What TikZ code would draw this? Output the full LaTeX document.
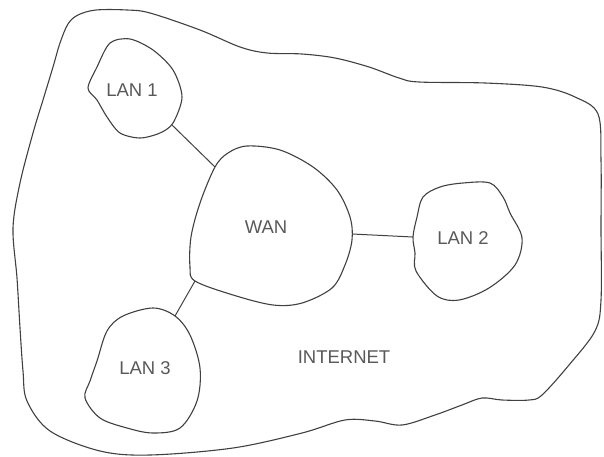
\documentclass[tikz,border=0pt]{standalone}
\usepackage{fontspec}
\setmainfont{Liberation Sans}
\begin{document}
\begin{tikzpicture}[x=1pt,y=-1pt,
  outline/.style={draw=black!75,line width=1.1pt,line join=round},
  link/.style={draw=black!75,line width=1.0pt},
  lbl/.style={text=black!65,font=\fontsize{18.5}{20}\selectfont,inner sep=0pt}]
\useasboundingbox (0,0) rectangle (604,457);
% Internet boundary
\draw[outline] plot[smooth cycle,tension=0.55] coordinates {
 (68,24) (78,15) (96,10) (127,10) (150,13) (200,30) (240,47) (267,53) (302,54) (335,58)
 (369,67) (399,78) (419,82) (485,83) (542,87) (575,97) (598,114) (601,160)
 (601,228) (601,300) (595,331) (569,365) (542,395) (529,400) (502,400)
 (482,398) (462,405) (435,415) (402,425) (375,421) (345,420) (302,433)
 (233,448) (150,455) (100,451) (50,431) (27,401) (23,371) (20,328)
 (17,278) (13,228) (20,183) (33,133) (43,100) (53,67) (60,43)};
% LAN 1
\draw[outline] plot[smooth cycle,tension=0.5] coordinates {
 (110,43) (130,39) (153,50) (173,70) (182,97) (173,123) (160,133) (140,138)
 (120,133) (107,117) (97,100) (88,88) (97,67)};
% WAN
\draw[outline] plot[smooth cycle,tension=0.55] coordinates {
 (247,146) (280,150) (313,167) (337,190) (350,217) (352,240) (345,265)
 (332,288) (302,303) (273,305) (233,295) (195,281) (190,267) (191,237)
 (200,203) (215,167) (228,153)};
% LAN 2
\draw[outline] plot[smooth cycle,tension=0.55] coordinates {
 (440,187) (463,183) (490,183) (503,197) (510,213) (522,238) (515,265)
 (489,288) (459,300) (437,296) (416,271) (415,253) (413,237) (417,217)
 (423,197)};
% LAN 3
\draw[outline] plot[smooth cycle,tension=0.55] coordinates {
 (123,316) (153,308) (175,316) (190,335) (200,368) (197,401) (180,428)
 (153,433) (127,428) (100,418) (85,398) (90,381) (97,361) (107,331)};
% connector end points
\coordinate (l1e) at (172,125);
\coordinate (w1e) at (215,167);
\coordinate (w3e) at (195,281);
\coordinate (l3e) at (175,316);
\coordinate (w2e) at (352,234);
\coordinate (l2e) at (413,237);
\draw[link] (l1e) -- (w1e);
\draw[link] (w3e) -- (l3e);
\draw[link] (w2e) -- (l2e);
% labels
\node[lbl] (lan1) at (132,90) {LAN 1};
\node[lbl] (wan) at (266,227) {WAN};
\node[lbl] (lan2) at (463,238) {LAN 2};
\node[lbl] (lan3) at (145,368) {LAN 3};
\node[lbl] (inet) at (344,357) {INTERNET};
\end{tikzpicture}
\end{document}
